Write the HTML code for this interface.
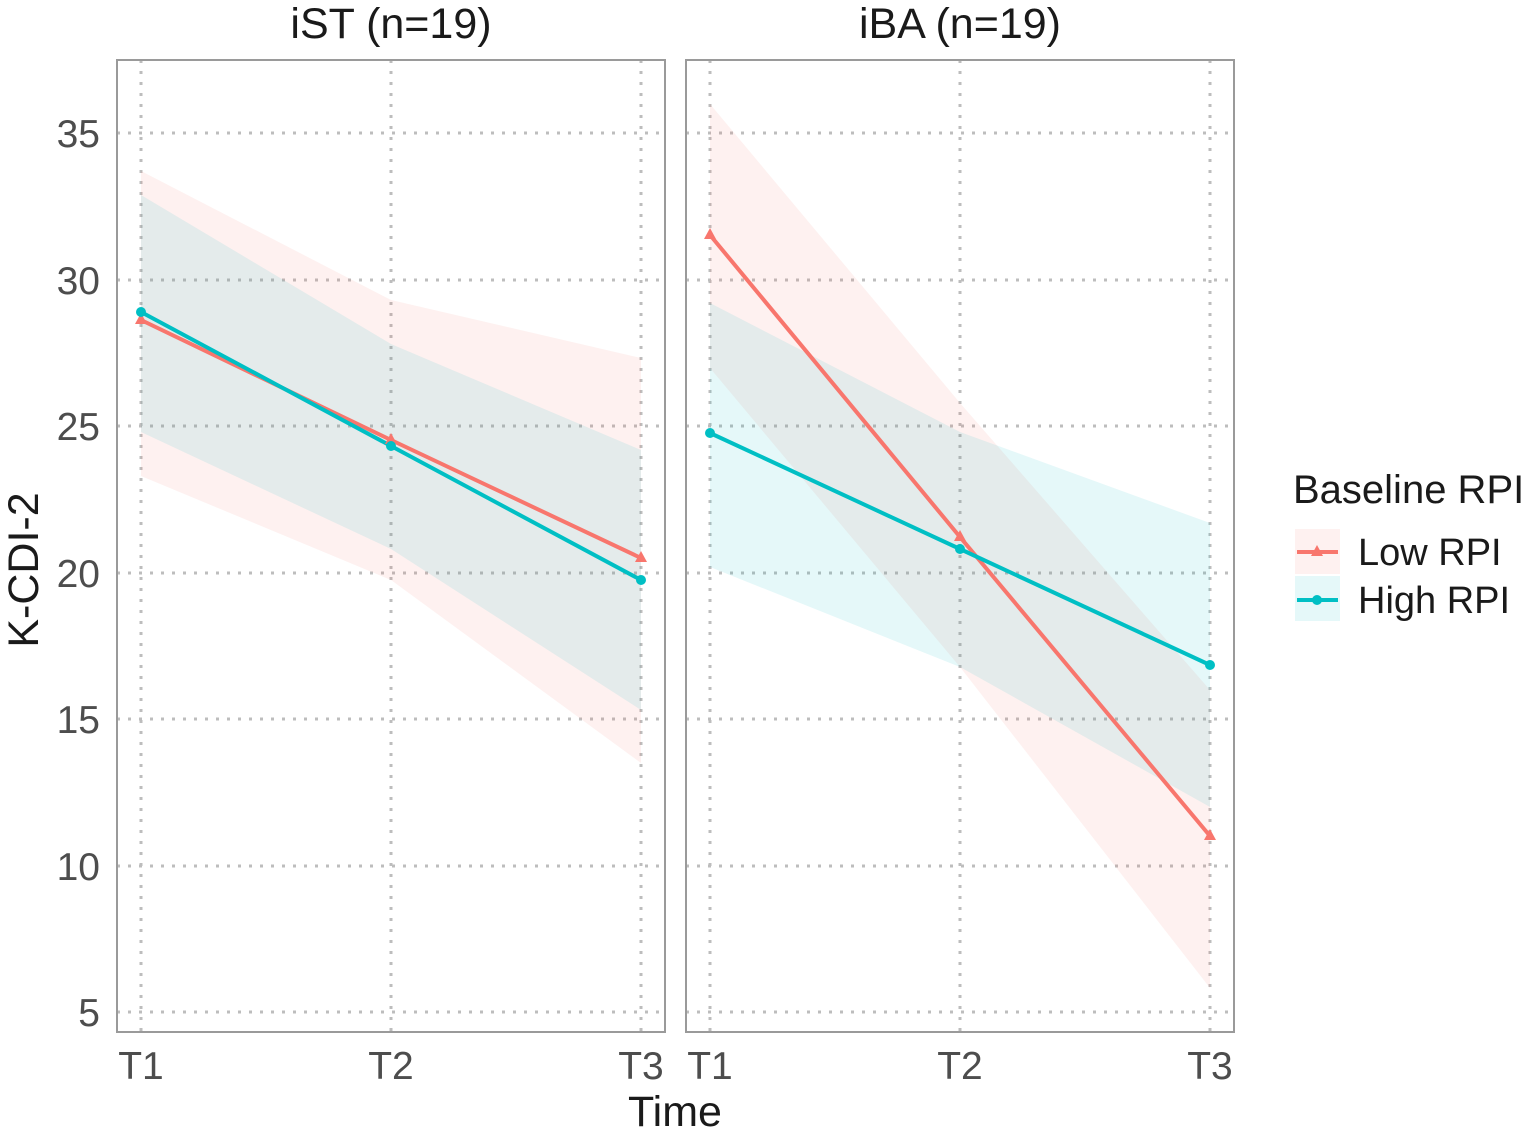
<!DOCTYPE html>
<html><head><meta charset="utf-8"><style>body{margin:0;background:#fff}</style></head>
<body>
<svg width="1535" height="1134" viewBox="0 0 1535 1134" xmlns="http://www.w3.org/2000/svg" font-family="Liberation Sans, Arial, sans-serif">
<rect width="1535" height="1134" fill="#fff"/>
<g stroke="#bdbdbd" stroke-width="3" stroke-dasharray="3,8">
<line x1="117" x2="665" y1="133" y2="133"/><line x1="117" x2="665" y1="280" y2="280"/><line x1="117" x2="665" y1="426" y2="426"/><line x1="117" x2="665" y1="573" y2="573"/><line x1="117" x2="665" y1="719" y2="719"/><line x1="117" x2="665" y1="866" y2="866"/><line x1="117" x2="665" y1="1012" y2="1012"/>
<line x1="686" x2="1234" y1="133" y2="133"/><line x1="686" x2="1234" y1="280" y2="280"/><line x1="686" x2="1234" y1="426" y2="426"/><line x1="686" x2="1234" y1="573" y2="573"/><line x1="686" x2="1234" y1="719" y2="719"/><line x1="686" x2="1234" y1="866" y2="866"/><line x1="686" x2="1234" y1="1012" y2="1012"/>
<line x1="141" x2="141" y1="60" y2="1032"/><line x1="391" x2="391" y1="60" y2="1032"/><line x1="641" x2="641" y1="60" y2="1032"/>
<line x1="710" x2="710" y1="60" y2="1032"/><line x1="960" x2="960" y1="60" y2="1032"/><line x1="1210" x2="1210" y1="60" y2="1032"/>
</g>
<g fill-opacity="0.1">
<polygon fill="#F8766D" points="141,171 391,300 641,358 641,763 391,580 141,476"/>
<polygon fill="#00BFC4" points="141,195 391,344 641,450 641,710 391,549 141,432"/>
<polygon fill="#F8766D" points="710,104 960,403 1210,690 1210,988 960,667 710,368"/>
<polygon fill="#00BFC4" points="710,303 960,432 1210,523 1210,807 960,667 710,567"/>
</g>
<g fill="none" stroke-width="4">
<polyline stroke="#F8766D" points="141,320 391,440 641,558"/>
<polyline stroke="#00BFC4" points="141,312 391,446 641,580"/>
<polyline stroke="#F8766D" points="710,235 960,537 1210,836"/>
<polyline stroke="#00BFC4" points="710,433 960,549 1210,665"/>
</g>
<g fill="#F8766D">
<polygon points="141,313 135,324 147,324"/><polygon points="391,433 385,444 397,444"/><polygon points="641,551 635,562 647,562"/>
<polygon points="710,228 704,239 716,239"/><polygon points="960,530 954,541 966,541"/><polygon points="1210,829 1204,840 1216,840"/>
</g>
<g fill="#00BFC4">
<circle cx="141" cy="312" r="5"/><circle cx="391" cy="446" r="5"/><circle cx="641" cy="580" r="5"/>
<circle cx="710" cy="433" r="5"/><circle cx="960" cy="549" r="5"/><circle cx="1210" cy="665" r="5"/>
</g>
<rect x="117" y="60" width="548" height="972" fill="none" stroke="#9a9a9a" stroke-width="2"/>
<rect x="686" y="60" width="548" height="972" fill="none" stroke="#9a9a9a" stroke-width="2"/>
<g font-size="43" fill="#1a1a1a" text-anchor="middle">
<text x="391" y="38">iST (n=19)</text><text x="960" y="38">iBA (n=19)</text>
<text x="675" y="1126">Time</text>
<text transform="translate(38,570) rotate(-90)">K-CDI-2</text>
</g>
<g font-size="39" fill="#4d4d4d" text-anchor="end">
<text x="100" y="147">35</text><text x="100" y="294">30</text><text x="100" y="440">25</text><text x="100" y="587">20</text><text x="100" y="733">15</text><text x="100" y="880">10</text><text x="100" y="1026">5</text>
</g>
<g font-size="39" fill="#4d4d4d" text-anchor="middle">
<text x="141" y="1079">T1</text><text x="391" y="1079">T2</text><text x="641" y="1079">T3</text>
<text x="710" y="1079">T1</text><text x="960" y="1079">T2</text><text x="1210" y="1079">T3</text>
</g>
<text x="1293" y="503" font-size="40" fill="#1a1a1a">Baseline RPI</text>
<rect x="1295" y="529" width="45" height="45" fill="#F8766D" fill-opacity="0.1"/>
<rect x="1295" y="576" width="45" height="45" fill="#00BFC4" fill-opacity="0.1"/>
<line x1="1297" x2="1338" y1="552" y2="552" stroke="#F8766D" stroke-width="4"/>
<polygon points="1317,545 1311,556 1323,556" fill="#F8766D"/>
<line x1="1297" x2="1338" y1="600" y2="600" stroke="#00BFC4" stroke-width="4"/>
<circle cx="1317" cy="600" r="5" fill="#00BFC4"/>
<text x="1358" y="565" font-size="38" fill="#1a1a1a">Low RPI</text>
<text x="1358" y="613" font-size="38" fill="#1a1a1a">High RPI</text>
</svg>
</body></html>
